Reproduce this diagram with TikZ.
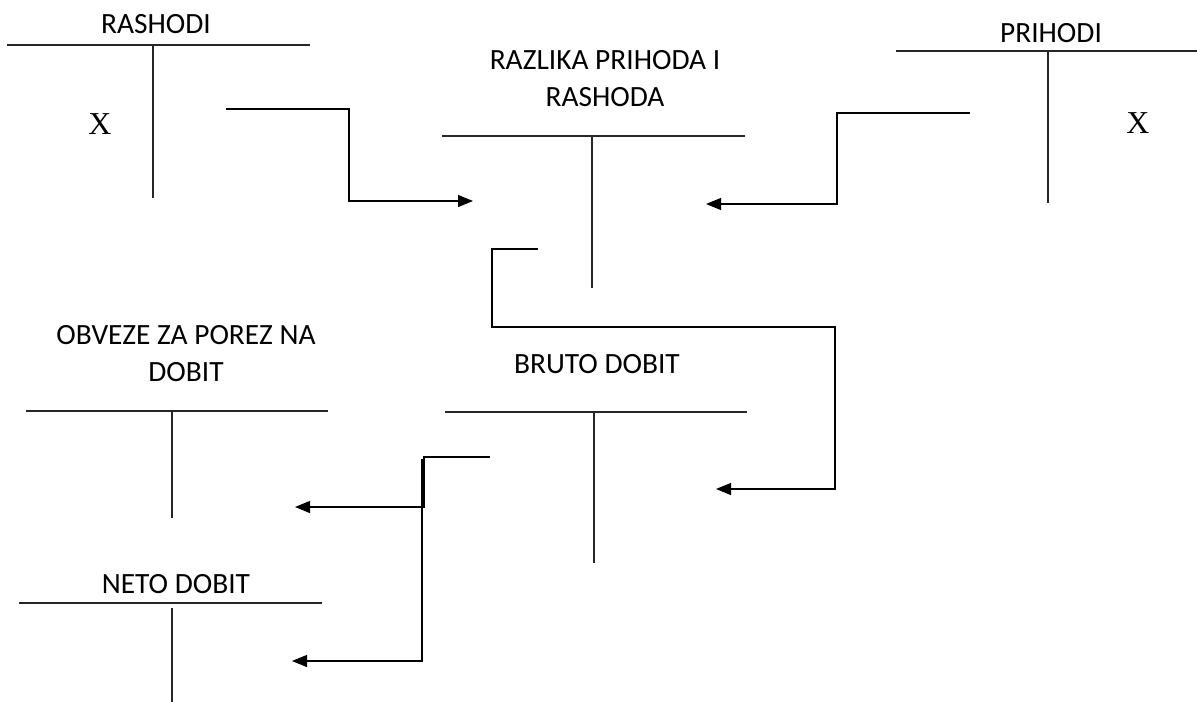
\documentclass[tikz,border=0pt]{standalone}
\usepackage{fontspec}
\setmainfont{Carlito}
\newfontfamily\xfont{Liberation Serif}
\usetikzlibrary{arrows.meta}
\begin{document}
\begin{tikzpicture}[x=1bp,y=-1bp,
  acct/.style={line width=1.2bp,draw=black!85},
  conn/.style={line width=1.2bp,draw=black},
  arr/.style={conn,-{Triangle[length=15bp,width=12bp]}},
  lbl/.style={inner sep=0pt,font=\fontsize{29.5}{37}\selectfont,align=center},
  xl/.style={inner sep=0pt,font=\xfont\fontsize{32}{32}\selectfont}]
\useasboundingbox (0,0) rectangle (1197,702);
% T-accounts
\draw[acct] (7,45) -- (310,45) (153,45) -- (153,198);
\node[lbl] (rashodi) at (156,24) {RASHODI};
\node[xl] (xr) at (100,124) {X};

\draw[acct] (442,136) -- (745,136) (592,136) -- (592,288);
\node[lbl] (razlika) at (605,78.5) {RAZLIKA PRIHODA I\\RASHODA};

\draw[acct] (896,51) -- (1197,51) (1048,51) -- (1048,203);
\node[lbl] (prihodi) at (1051,33) {PRIHODI};
\node[xl] (xp) at (1138,123) {X};

\draw[acct] (26,411) -- (328,411) (172,411) -- (172,518);
\node[lbl] (obveze) at (186,353.5) {OBVEZE ZA POREZ NA\\DOBIT};

\draw[acct] (445,412) -- (747,412) (594,412) -- (594,563);
\node[lbl] (bruto) at (597,364) {BRUTO DOBIT};

\draw[acct] (19,603) -- (322,603) (172,608) -- (172,702);
\node[lbl] (neto) at (176,584) {NETO DOBIT};

% connector points
\coordinate (a1s) at (226,109);
\coordinate (a1e) at (473,201);
\coordinate (a2s) at (970,113);
\coordinate (a2e) at (706,204);
\coordinate (a3s) at (538,249);
\coordinate (a3e) at (716,489);
\coordinate (a4s) at (490,457);
\coordinate (a4j) at (424,457);
\coordinate (a4e) at (295,507);
\coordinate (a5s) at (422,459);
\coordinate (a5e) at (292,661);

\draw[arr] (a1s) -- (349,109) -- (349,201) -- (a1e);
\draw[arr] (a2s) -- (837,113) -- (837,204) -- (a2e);
\draw[arr] (a3s) -- (492,249) -- (492,327) -- (835,327) -- (835,489) -- (a3e);
\draw[arr] (a4s) -- (a4j) -- (424,507) -- (a4e);
\draw[arr] (a5s) -- (422,661) -- (a5e);
\end{tikzpicture}
\end{document}
